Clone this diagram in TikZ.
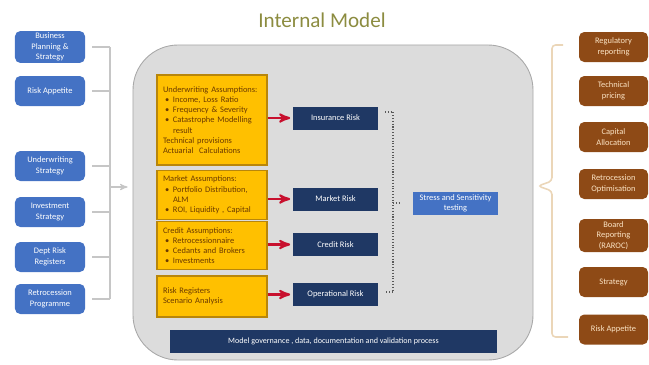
\documentclass[tikz,border=0pt]{standalone}
\usepackage{fontspec}
\setmainfont{Carlito}
\usepackage{tikz}
\usetikzlibrary{arrows}

\definecolor{lblue}{HTML}{4472C4}
\definecolor{navy}{HTML}{1F3864}
\definecolor{gold}{HTML}{FFC000}
\definecolor{goldline}{HTML}{B8860B}
\definecolor{goldtext}{HTML}{6B3A00}
\definecolor{rust}{HTML}{8E4A16}
\definecolor{rusttext}{HTML}{FBE3C4}
\definecolor{panelfill}{HTML}{DCDCDC}
\definecolor{panelline}{HTML}{A8A8A8}
\definecolor{titlecol}{HTML}{8C8C40}
\definecolor{bracecol}{HTML}{EBD6B8}
\definecolor{arrowred}{HTML}{C8102E}

\newcommand{\bul}{\hspace*{0.4mm}\makebox[1.6mm][l]{\textbullet}}
\newcommand{\bulcont}{\hspace*{2mm}}

\begin{document}
\begin{tikzpicture}[x=0.2mm,y=-0.2mm,>=stealth',
                    small/.style={font=\fontsize{4.8}{6}\selectfont},
                    left box/.style={small,rectangle,rounded corners=3pt,fill=lblue,text=white,
                                     minimum width=14mm,minimum height=6mm,align=center,inner sep=1pt},
                    right box/.style={small,rectangle,rounded corners=3pt,fill=rust,text=rusttext,
                                      minimum width=13.8mm,minimum height=6mm,align=center,inner sep=1pt},
                    assumption/.style={rectangle,fill=gold,draw=goldline,line width=0.6pt,text=goldtext,
                                       text width=19.6mm,inner xsep=1.2mm,align=left,
                                       font=\fontsize{4.8}{5.8}\selectfont},
                    risk/.style={small,rectangle,fill=navy,text=white,minimum width=17mm,minimum height=4.6mm},
                    panel/.style={rectangle,fill=panelfill,draw=panelline,line width=0.5pt,rounded corners=9mm,
                                  minimum width=80mm,minimum height=63mm},
                    link/.style={draw=gray!45,line width=0.6pt},
                    risk arrow/.style={->,draw=arrowred,line width=1.2pt},
                    dotbrace/.style={densely dotted,draw=gray!70!black,line width=0.6pt}]

  \useasboundingbox (0,0) rectangle (649,364);

  \node[font=\fontsize{12}{14}\selectfont,text=titlecol] (title) at (322,20) {Internal Model};

  \node[panel] (main) at (333,202.5) {};

  \node[left box] (lb1) at (50,47) {Business\\Planning \&\\Strategy};
  \node[left box] (lb2) at (50,91) {Risk Appetite};
  \node[left box] (lb3) at (50,166) {Underwriting\\Strategy};
  \node[left box] (lb4) at (50,212) {Investment\\Strategy};
  \node[left box] (lb5) at (50,257) {Dept Risk\\Registers};
  \node[left box] (lb6) at (50,299) {Retrocession\\Programme};

  \coordinate (lbar) at (110,187);
  \foreach \n in {1,...,6}
    \draw[link,shorten <=1.4mm] (lb\n.east) -- (lb\n.east -| lbar);
  \draw[link] (lb1.east -| lbar) -- (lb6.east -| lbar);
  \draw[link,->,shorten >=1mm] (lbar) -- (lbar -| main.west);

  \node[assumption,minimum height=18mm] (ua) at (212,120) {Underwriting Assumptions:\\
    \bul Income, Loss Ratio\\
    \bul Frequency \& Severity\\
    \bul Catastrophe Modelling\\
    \bulcont result\\
    Technical provisions\\
    Actuarial\ \ Calculations};
  \node[assumption,minimum height=8.4mm] (ma) at (212,195) {Market Assumptions:\\
    \bul Portfolio Distribution,\\
    \bulcont ALM\\
    \bul ROI, Liquidity , Capital};
  \node[assumption,minimum height=8.2mm] (ca) at (212,245.5) {Credit Assumptions:\\
    \bul Retrocessionnaire\\
    \bul Cedants and Brokers\\
    \bul Investments};
  \node[assumption,minimum height=8.2mm] (oa) at (212,296.5) {Risk Registers\\
    Scenario Analysis};

  \node[risk] (ins) at (335.5,118) {Insurance Risk};
  \node[risk] (mkt) at (335.5,199) {Market Risk};
  \node[risk] (crd) at (335.5,244.5) {Credit Risk};
  \node[risk] (ops) at (335.5,294.5) {Operational Risk};

  \foreach \a/\b in {ua/ins,ma/mkt,ca/crd,oa/ops}
    \draw[risk arrow,shorten >=0.5mm] (\a.east |- \b) -- (\b.west);

  \coordinate (dtop) at (393,112);
  \coordinate (dbot) at (393,292);
  \coordinate (dmid) at (393,203);
  \draw[dotbrace] ([xshift=-1.6mm]dtop) -- (dtop) -- (dbot) -- ([xshift=-1.6mm]dbot);
  \draw[dotbrace] (dmid) -- ++(8,0);

  \node[small,rectangle,fill=lblue,text=white,minimum width=17mm,minimum height=4.6mm,align=center,inner sep=1pt]
    (stress) at (455.5,203.5) {Stress and Sensitivity\\testing};

  \node[rectangle,fill=navy,text=white,minimum width=65.4mm,minimum height=4.6mm,
        font=\fontsize{4.6}{6}\selectfont] (gov) at (333.5,341.5)
    {Model governance , data, documentation and validation process};

  \node[right box] (rb1) at (613.5,47) {Regulatory\\reporting};
  \node[right box] (rb2) at (613.5,91) {Technical\\pricing};
  \node[right box] (rb3) at (613.5,137) {Capital\\Allocation};
  \node[right box] (rb4) at (613.5,184) {Retrocession\\Optimisation};
  \node[right box,minimum height=6.6mm] (rb5) at (613.5,235.5) {Board\\Reporting\\(RAROC)};
  \node[right box] (rb6) at (613.5,282) {Strategy};
  \node[right box] (rb7) at (613.5,329.5) {Risk Appetite};

  \coordinate (rtip) at (538,186);
  \draw[draw=bracecol,line width=0.9pt,rounded corners=2pt]
    (563,45) -- (552,45) -- (552,181) -- (rtip) -- (552,191) -- (552,337) -- (568,337);
\end{tikzpicture}
\end{document}
